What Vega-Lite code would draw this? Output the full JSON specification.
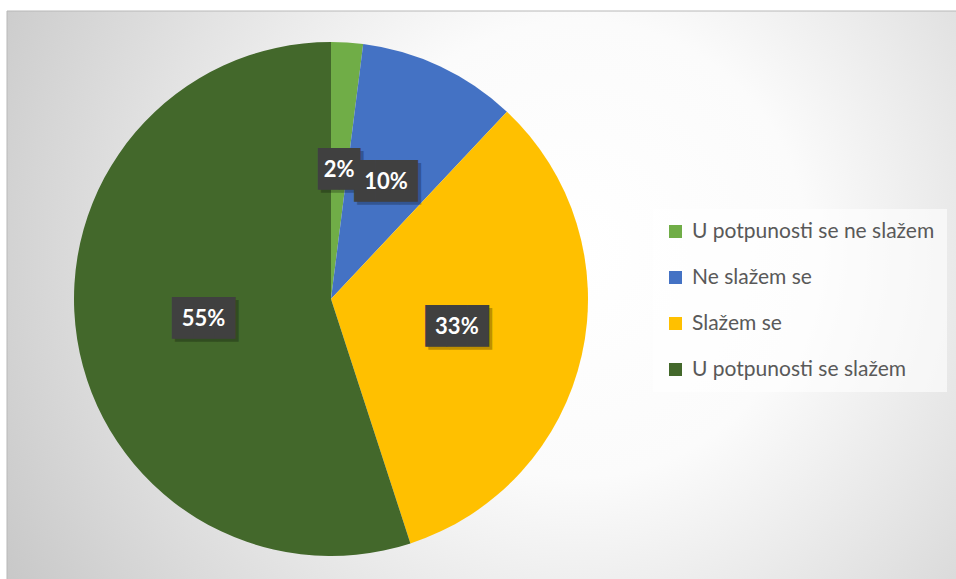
{
  "$schema": "https://vega.github.io/schema/vega-lite/v6.json",
  "width": 952,
  "height": 572,
  "padding": {"left": 7, "top": 11, "right": 0, "bottom": 0},
  "autosize": {"type": "none"},
  "background": "white",
  "config": {"view": {"stroke": null}},
  "datasets": {
    "answers": [
      {"n": 1, "category": "U potpunosti se ne slažem", "share": 0.02},
      {"n": 2, "category": "Ne slažem se", "share": 0.10},
      {"n": 3, "category": "Slažem se", "share": 0.33},
      {"n": 4, "category": "U potpunosti se slažem", "share": 0.55}
    ]
  },
  "layer": [
    {
      "data": {"values": [{}]},
      "mark": {
        "type": "rect",
        "stroke": "#b8b8b8",
        "strokeWidth": 1,
        "fill": {
          "gradient": "radial",
          "x1": 0.6, "y1": 0.45, "r1": 0,
          "x2": 0.6, "y2": 0.45, "r2": 0.8,
          "stops": [
            {"offset": 0, "color": "#ffffff"},
            {"offset": 0.3, "color": "#fbfbfb"},
            {"offset": 1, "color": "#bcbcbc"}
          ]
        }
      },
      "encoding": {}
    },
    {
      "data": {"name": "answers"},
      "mark": {"type": "arc", "outerRadius": 257, "x": 324, "y": 288},
      "encoding": {
        "theta": {"field": "share", "type": "quantitative", "stack": true},
        "order": {"field": "n", "type": "quantitative"},
        "color": {
          "field": "category",
          "type": "nominal",
          "scale": {
            "domain": ["U potpunosti se ne slažem", "Ne slažem se", "Slažem se", "U potpunosti se slažem"],
            "range": ["#70AD47", "#4472C4", "#FFC000", "#43682B"]
          },
          "legend": {
            "title": null,
            "orient": "none",
            "legendX": 646,
            "legendY": 198,
            "fillColor": "rgba(255,255,255,0.6)",
            "padding": 12,
            "symbolType": "square",
            "symbolSize": 169,
            "symbolStrokeWidth": 0,
            "symbolOpacity": 1,
            "labelFont": "Lato",
            "labelFontSize": 21,
            "labelColor": "#595959",
            "labelOffset": 6,
            "labelLimit": 400,
            "rowPadding": 24
          }
        }
      }
    },
    {
      "data": {"name": "answers"},
      "mark": {"type": "text", "radius": 129, "x": 327, "y": 291, "font": "DejaVu Sans Mono", "fontSize": 35, "fill": "#000000", "opacity": 0.25, "align": "center", "baseline": "middle"},
      "encoding": {
        "theta": {"field": "share", "type": "quantitative", "stack": true},
        "order": {"field": "n", "type": "quantitative"},
        "text": {"condition": {"test": "datum.share < 0.05", "value": "██"}, "value": "███"}
      }
    },
    {
      "data": {"name": "answers"},
      "mark": {"type": "text", "radius": 129, "x": 324, "y": 288, "font": "DejaVu Sans Mono", "fontSize": 35, "fill": "#404040", "align": "center", "baseline": "middle"},
      "encoding": {
        "theta": {"field": "share", "type": "quantitative", "stack": true},
        "order": {"field": "n", "type": "quantitative"},
        "text": {"condition": {"test": "datum.share < 0.05", "value": "██"}, "value": "███"}
      }
    },
    {
      "data": {"name": "answers"},
      "mark": {"type": "text", "radius": 129, "x": 324, "y": 288, "font": "Lato", "fontSize": 22, "fontWeight": "bold", "fill": "#ffffff", "align": "center", "baseline": "middle"},
      "encoding": {
        "theta": {"field": "share", "type": "quantitative", "stack": true},
        "order": {"field": "n", "type": "quantitative"},
        "text": {"field": "share", "type": "quantitative", "format": ".0%"}
      }
    }
  ]
}
